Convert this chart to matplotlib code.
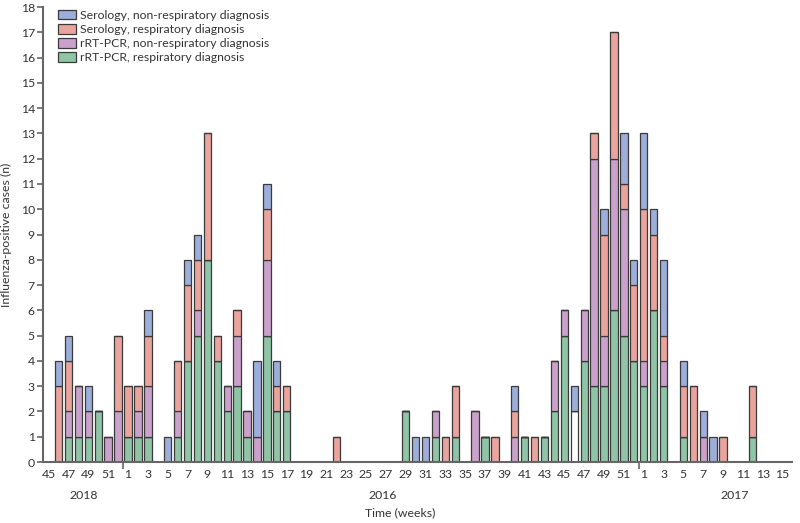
import numpy as np
import matplotlib
matplotlib.use("Agg")
import matplotlib.pyplot as plt
import matplotlib.transforms as mtransforms

plt.rcParams['font.family'] = ['Lato', 'DejaVu Sans']

# (year, ISO week) of each non-empty bar
years = [2015] * 7 + [2016] * 39 + [2017] * 9
weeks = [46, 47, 48, 49, 50, 51, 52,
         1, 2, 3, 5, 6, 7, 8, 9, 10, 11, 12, 13, 14, 15, 16, 17,
         22, 29, 30, 31, 32, 33, 34, 36, 37, 38, 40, 41, 42, 43, 44, 45,
         46, 47, 48, 49, 50, 51, 52,
         1, 2, 3, 5, 6, 7, 8, 9, 12]

# case counts per category (stack order bottom -> top)
pcr_resp = [0, 1, 1, 1, 2, 0, 0,
            1, 1, 1, 0, 1, 4, 5, 8, 4, 2, 3, 1, 0, 5, 2, 2,
            0, 2, 0, 0, 1, 0, 1, 0, 1, 0, 0, 1, 0, 1, 2, 5,
            0, 4, 3, 3, 6, 5, 4,
            3, 6, 3, 1, 0, 0, 0, 0, 1]
unfilled = [0] * 39 + [2] + [0] * 15
pcr_nonresp = [0, 1, 2, 1, 0, 1, 2,
               0, 1, 2, 0, 1, 0, 1, 0, 0, 1, 2, 1, 1, 3, 0, 0,
               0, 0, 0, 0, 1, 0, 0, 2, 0, 0, 1, 0, 0, 0, 2, 1,
               0, 2, 9, 2, 6, 5, 0,
               1, 0, 1, 0, 0, 1, 0, 0, 0]
sero_resp = [3, 2, 0, 0, 0, 0, 3,
             2, 1, 2, 0, 2, 3, 2, 5, 1, 0, 1, 0, 0, 2, 1, 1,
             1, 0, 0, 0, 0, 1, 2, 0, 0, 1, 1, 0, 1, 0, 0, 0,
             0, 0, 1, 4, 5, 1, 3,
             6, 3, 1, 2, 3, 0, 0, 1, 2]
sero_nonresp = [1, 1, 0, 1, 0, 0, 0,
                0, 0, 1, 1, 0, 1, 1, 0, 0, 0, 0, 0, 3, 1, 1, 0,
                0, 0, 1, 1, 0, 0, 0, 0, 0, 0, 1, 0, 0, 0, 0, 0,
                1, 0, 0, 1, 0, 2, 1,
                3, 1, 3, 1, 0, 1, 1, 0, 0]

labels = ["rRT-PCR, respiratory diagnosis",
          None,
          "rRT-PCR, non-respiratory diagnosis",
          "Serology, respiratory diagnosis",
          "Serology, non-respiratory diagnosis"]
colors = ["#8fc5a6", "#ffffff", "#c9a1cb", "#e9a49d", "#9daedb"]

tick_years = [2015] * 4 + [2016] * 26 + [2017] * 8
tick_weeks = [45, 47, 49, 51] + list(range(1, 52, 2)) + list(range(1, 16, 2))
year_names = ["2018", "2016", "2017"]
year_label_pos = [3.5, 33.7, 69.2]

OFFSET = {2015: -45, 2016: 7, 2017: 59}
FS = 8.8
TXT = "#333333"


def to_index(yrs, wks):
    return np.array([OFFSET[y] + w for y, w in zip(yrs, wks)], dtype=float)


x = to_index(years, weeks)
series = [pcr_resp, unfilled, pcr_nonresp, sero_resp, sero_nonresp]

fig = plt.figure(figsize=(8, 5.23), dpi=100)
ax = fig.add_axes([0.054, 0.1166, 0.936, 0.87])

bottom = np.zeros(len(x))
handles = []
for vals, col, lab in zip(series, colors, labels):
    vals = np.array(vals, dtype=float)
    bars = ax.bar(x, vals, bottom=bottom, width=0.74, color=col,
                  edgecolor="#3a3a3a", linewidth=0.9, zorder=2)
    if lab is not None:
        handles.append((bars, lab))
    bottom += vals

ax.set_xlim(-0.55, 74.95)
ax.set_ylim(0, 18)
ax.set_yticks(range(0, 19))

# week labels (no tick marks), year boundaries as marks
ax.set_xticks(to_index(tick_years, tick_weeks))
ax.set_xticklabels([str(w) for w in tick_weeks])
ax.set_xticks([7.5, 59.5], minor=True)
ax.tick_params(axis="x", which="major", length=0, pad=5, labelsize=FS,
               labelcolor=TXT)
ax.tick_params(axis="x", which="minor", length=5, width=1.2, color="#666666")
ax.tick_params(axis="y", length=4, width=1.2, color="#666666", pad=2,
               labelsize=FS, labelcolor=TXT)

for side in ["top", "right"]:
    ax.spines[side].set_visible(False)
for side in ["left", "bottom"]:
    ax.spines[side].set_color("#666666")
    ax.spines[side].set_linewidth(1.5)

# year labels under the weeks
trans = mtransforms.blended_transform_factory(ax.transData, ax.transAxes)
for name, pos in zip(year_names, year_label_pos):
    ax.text(pos, -0.073, name, transform=trans, ha="center", va="center",
            fontsize=FS, color=TXT)

fig.text(0.5, 0.019, "Time (weeks)", ha="center", va="center",
         fontsize=FS, color=TXT)
ax.set_ylabel("Influenza-positive cases (n)", fontsize=FS, color=TXT)
ax.yaxis.set_label_coords(-0.041, 0.5)

# legend (top of stack first)
handles = handles[::-1]
ax.legend([h[0] for h in handles], [h[1] for h in handles],
          loc="upper left", bbox_to_anchor=(0.013, 1.005), frameon=False,
          fontsize=FS, handlelength=1.5, handleheight=0.85,
          labelspacing=0.25, handletextpad=0.3, borderaxespad=0,
          labelcolor=TXT)

fig.savefig("out.png", dpi=100)
